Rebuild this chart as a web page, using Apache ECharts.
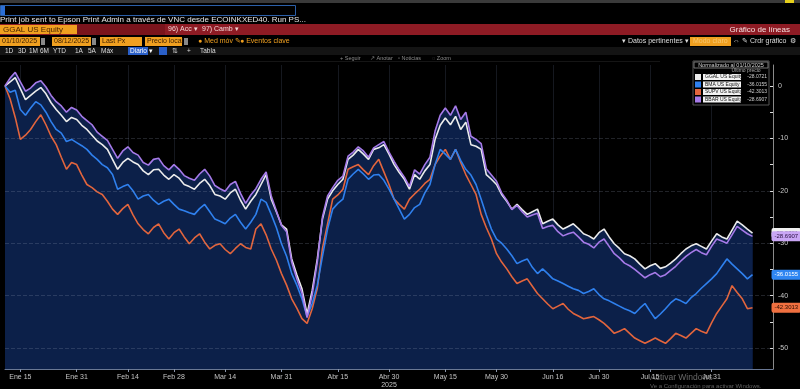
<!DOCTYPE html>
<html><head><meta charset="utf-8">
<script src="https://cdn.jsdelivr.net/npm/echarts@6/dist/echarts.min.js"></script>
<style>html,body{margin:0;padding:0;background:#000;}#c{width:800px;height:389px;}</style>
</head><body><div id="c"></div>
<script>
// ---- data ----
const holidays = ['2025-01-20','2025-02-17','2025-04-18','2025-05-26','2025-06-19','2025-07-04'];
const startDate = '2025-01-10';
const axisEndDate = '2025-08-18';
const monthNames = ['Ene','Feb','Mar','Abr','May','Jun','Jul','Ago','Sep','Oct','Nov','Dic'];
const labelDates = ['2025-01-15','2025-01-31','2025-02-14','2025-02-28','2025-03-14','2025-03-31','2025-04-15','2025-04-30','2025-05-15','2025-05-30','2025-06-16','2025-06-30','2025-07-15','2025-07-31'];
const yLabelValues = [0,-10,-20,-30,-40,-50];
const yTickValues = [0,-5,-10,-15,-20,-25,-30,-35,-40,-45,-50];

const ggal = [0,0.8,1.6,-0.5,-2.6,-1.8,-1.0,-0.3,-1.5,-3.2,-4.5,-5.6,-6.8,-6.0,-6.4,-7.5,-8.3,-9.4,-10.5,-11.2,
-12.1,-14.0,-15.9,-14.6,-13.8,-14.5,-15.0,-16.2,-16.9,-16.0,-15.9,-17.0,-17.8,-16.9,-17.6,-18.8,-19.2,-19.7,-18.6,-17.8,
-19.0,-20.7,-21.0,-21.6,-20.4,-19.7,-21.8,-23.5,-22.0,-20.7,-18.8,-16.9,-21.6,-24.0,-26.5,-27.3,-33.0,-36.0,-38.7,-43.5,
-39.0,-33.0,-25.4,-21.6,-20.0,-18.8,-17.8,-14.0,-13.2,-12.1,-13.0,-14.0,-12.1,-11.8,-11.2,-13.0,-15.0,-16.5,-17.8,-19.7,
-16.9,-17.8,-16.2,-15.0,-10.2,-7.5,-6.1,-7.4,-5.8,-8.3,-6.9,-11.2,-11.5,-12.1,-16.9,-17.8,-18.8,-20.7,-22.0,-23.5,
-22.6,-23.6,-24.5,-24.0,-23.5,-26.3,-25.8,-25.4,-26.5,-27.3,-26.8,-26.3,-27.2,-28.2,-28.6,-29.2,-28.0,-27.3,-28.8,-30.1,
-31.0,-32.0,-32.4,-33.0,-34.0,-34.9,-34.3,-33.9,-34.8,-34.5,-33.8,-33.0,-32.0,-31.1,-30.5,-30.1,-30.6,-31.1,-29.6,-28.2,
-28.8,-29.2,-27.5,-25.8,-26.5,-27.3,-28.0721];
const bbar = [0,1.5,2.6,0.8,-1.0,-0.4,0.6,1.0,-0.2,-1.8,-3.0,-3.8,-5.0,-4.1,-4.6,-5.8,-6.6,-7.4,-8.8,-9.6,
-10.4,-12.1,-13.8,-12.4,-11.6,-12.7,-13.2,-14.6,-15.1,-14.0,-13.8,-15.2,-16.0,-15.0,-15.9,-17.1,-17.6,-18.0,-16.8,-15.9,
-17.2,-19.0,-19.6,-20.1,-18.8,-18.2,-20.5,-22.4,-20.8,-19.6,-17.8,-16.4,-21.0,-23.8,-26.6,-27.8,-33.6,-36.8,-39.5,-44.2,
-39.8,-33.5,-25.0,-21.0,-19.4,-18.0,-17.2,-13.4,-12.6,-11.6,-12.4,-13.6,-11.8,-11.2,-10.6,-12.6,-14.4,-16.0,-17.4,-19.2,
-16.0,-16.8,-15.0,-13.6,-8.6,-5.6,-4.2,-5.6,-3.8,-6.4,-5.0,-9.6,-10.2,-11.0,-15.8,-17.0,-18.2,-20.4,-21.8,-23.6,
-22.8,-24.0,-25.0,-24.6,-24.3,-27.2,-26.8,-26.6,-27.8,-28.6,-28.2,-27.9,-28.8,-29.8,-30.2,-30.9,-29.8,-29.2,-30.6,-32.0,
-32.8,-33.8,-34.3,-35.0,-35.8,-36.6,-36.0,-35.6,-36.4,-36.0,-35.2,-34.4,-33.4,-32.5,-31.8,-31.2,-31.8,-32.2,-30.6,-29.2,
-29.6,-30.0,-28.4,-26.8,-27.5,-28.2,-28.6907];
const bma = [0,-1.2,-0.8,-4.5,-5.6,-4.2,-3.0,-3.6,-5.0,-6.8,-8.3,-9.0,-10.6,-10.2,-10.8,-11.4,-12.1,-13.2,-14.0,-15.0,
-15.6,-16.9,-19.7,-19.2,-18.8,-20.0,-21.6,-21.0,-20.7,-21.8,-22.6,-22.0,-21.6,-22.6,-23.5,-23.8,-24.2,-24.5,-23.4,-22.6,
-24.0,-25.4,-25.8,-26.3,-25.2,-24.5,-26.0,-27.3,-26.0,-24.5,-21.6,-22.2,-24.5,-27.0,-30.1,-32.5,-35.8,-38.0,-40.6,-44.0,
-41.5,-38.0,-32.5,-27.3,-23.5,-22.4,-21.6,-17.8,-16.8,-15.9,-16.8,-17.8,-17.0,-16.9,-18.0,-19.7,-21.6,-23.5,-25.4,-24.5,
-23.2,-22.6,-20.4,-18.8,-15.0,-12.1,-13.0,-14.0,-12.1,-14.2,-15.9,-17.0,-18.8,-21.6,-24.6,-27.3,-29.2,-30.0,-31.1,-32.4,
-33.9,-33.4,-33.0,-34.6,-35.8,-34.9,-35.8,-36.8,-37.2,-37.7,-38.2,-38.7,-39.0,-39.6,-39.2,-38.7,-39.8,-40.6,-41.0,-41.5,
-42.0,-42.5,-42.9,-43.4,-42.4,-41.5,-43.0,-44.4,-43.5,-42.5,-41.4,-40.6,-41.0,-41.5,-40.4,-39.6,-38.6,-37.7,-36.8,-35.8,
-34.4,-33.0,-34.0,-34.9,-35.8,-36.8,-36.0155];
const supv = [0,-2.5,-6.0,-10.2,-9.4,-8.3,-6.8,-5.5,-7.4,-9.6,-11.2,-13.6,-15.9,-14.6,-15.0,-17.0,-18.8,-19.4,-20.2,-20.7,
-22.0,-23.5,-24.5,-23.4,-22.6,-24.6,-26.3,-27.4,-28.2,-27.0,-26.3,-28.0,-29.2,-28.0,-27.3,-28.8,-30.1,-29.0,-28.2,-29.8,
-31.1,-30.4,-30.1,-31.2,-32.0,-31.0,-30.1,-30.8,-31.1,-27.3,-26.3,-28.4,-31.1,-33.2,-35.8,-38.0,-40.6,-42.4,-44.4,-45.3,
-42.5,-38.6,-31.0,-26.3,-21.6,-20.8,-19.7,-15.9,-15.4,-15.0,-16.0,-16.9,-15.2,-14.0,-16.4,-18.8,-21.6,-22.6,-23.5,-21.6,
-20.6,-19.7,-18.6,-17.8,-15.0,-13.4,-12.1,-14.0,-12.1,-14.6,-16.9,-18.8,-20.7,-24.5,-27.0,-29.2,-32.0,-33.6,-34.9,-36.4,
-37.7,-37.2,-36.8,-38.2,-39.6,-40.6,-41.6,-42.5,-42.0,-41.5,-42.6,-43.4,-43.9,-44.4,-44.2,-44.0,-44.6,-45.3,-46.2,-47.2,
-46.8,-46.3,-47.2,-48.1,-48.6,-49.1,-48.6,-48.1,-48.6,-49.1,-48.2,-47.2,-47.6,-48.1,-47.2,-46.3,-46.8,-47.2,-45.2,-43.4,
-42.0,-40.6,-38.1,-39.4,-40.6,-42.5,-42.3013];

const seriesNames = ['GGAL US Equity','BMA US Equity','SUPV US Equity','BBAR US Equity'];
const seriesColors = ['#ececec','#2f80ee','#e2653d','#a67ae8'];
const tagColors = ['#f0f0f0','#2f86f2','#f07040','#c9a6f5'];
const tagText = ['#111','#fff','#2a0d00','#2a1040'];

// ---- build trading-day categories ----
function buildDates(start, end, hol) {
  const out = []; const d = new Date(start + 'T00:00:00Z'); const e = new Date(end + 'T00:00:00Z');
  while (d <= e) {
    const dow = d.getUTCDay(); const s = d.toISOString().slice(0,10);
    if (dow !== 0 && dow !== 6 && !hol.includes(s)) out.push(s);
    d.setUTCDate(d.getUTCDate() + 1);
  }
  return out;
}
const dates = buildDates(startDate, axisEndDate, holidays);
const isLabel = (i, v) => labelDates.includes(v);
function fmtDate(v) {
  const p = v.split('-'); const s = monthNames[+p[1]-1] + ' ' + (+p[2]);
  return v === '2025-04-30' ? s + '\n2025' : s;
}

const FONT = '"Liberation Sans", Arial, sans-serif';
function T(text, x, y, fill, size, align, extra) {
  return Object.assign({type:'text', z:100, silent:true, style:{text:text, x:x, y:y, fill:fill||'#ddd',
    font:(size||8)+'px ' + FONT, textAlign:align||'left', textVerticalAlign:'middle'}}, extra||{});
}
function R(x, y, w, h, fill, stroke) {
  return {type:'rect', z:99, silent:true, shape:{x:x,y:y,width:w,height:h},
    style:{fill:fill||'none', stroke:stroke||'none', lineWidth:1}};
}

const allData = [ggal, bma, supv, bbar];
const graphic = [
  R(0,0,800,3,'#3a3a3a'), R(785,0,9,3,'#e6cf1c'),
  R(0.5,5.5,295,10,'#000','#2b5fa8'), R(1,6,4,9,'#2b6fd6'),
  T('Print job sent to Epson Print Admin a través de VNC desde ECOINKXED40. Run PS...',0,20,'#e6e6e6',8),
  R(0,24,800,11,'#8e1b24'), R(77,24,88,11,'#7a141c'), R(0,25,77,9,'#f0a020'),
  T('GGAL US Equity',3,29.5,'#4a2300',8),
  T('96) Acc ▾',168,29.5,'#f3d6d6',7), T('97) Camb ▾',202,29.5,'#f3d6d6',7),
  T('Gráfico de líneas',790,29.5,'#f5e0e0',8,'right'),
  R(0,37,40,9,'#f0a020'), T('01/10/2025',2,41.5,'#3a1c00',7), R(41,38,4,7,'#888'),
  R(52,37,39,9,'#f0a020'), T('08/12/2025',54,41.5,'#3a1c00',7), R(92,38,4,7,'#888'),
  R(100,37,42,9,'#f0a020'), T('Last Px',102,41.5,'#3a1c00',7),
  R(145,37,37,9,'#f0a020'), T('Precio local',147,41.5,'#3a1c00',7), R(184,38,4,7,'#888'),
  T('● Med móv ✎',198,41.5,'#f0a020',7), T('● Eventos clave',240,41.5,'#f0a020',7),
  T('▾ Datos pertinentes ▾',622,41.5,'#dddddd',7),
  R(690,37,41,9,'#f0a020'), T('Modo claro',693,41.5,'#f8c870',7),
  T('⇔',733,41.5,'#ddd',7), T('✎ Crdr gráfico',742,41.5,'#ddd',7), T('⚙',790,41.5,'#ddd',7),
  R(0,47,800,8,'#141414'),
  T('1D',5,51,'#ddd',6.5), T('3D',18,51,'#ddd',6.5), T('1M',29,51,'#ddd',6.5), T('6M',40,51,'#ddd',6.5),
  T('YTD',53,51,'#ddd',6.5), T('1A',75,51,'#ddd',6.5), T('5A',88,51,'#ddd',6.5), T('Máx',101,51,'#ddd',6.5),
  R(128,47,20,8,'#2a5fc8'), T('Diario ▾',130,51,'#fff',6.5), R(159,47,8,8,'#2a5fc8'),
  T('⇅',172,51,'#ddd',6.5), T('+',187,51,'#ddd',6.5), T('Tabla',200,51,'#ddd',6.5),
  R(0,61,660,0.6,'#2a2a2a'),
  T('+ Seguir',340,58,'#8a8a8a',5.5), T('↗ Anotar',370,58,'#8a8a8a',5.5),
  T('▫ Noticias',398,58,'#8a8a8a',5.5), T('◌ Zoom',432,58,'#8a8a8a',5.5),
  // legend box
  R(693,61,76,44,'#000','#555'), R(694,62,74,6,'#000','#777'),
  T('Normalizado al ' + '01/10/2025',731,65,'#cfcfcf',5.5,'center'),
  T('Último precio',746,71,'#a8a8a8',5,'center'),
  // watermark
  T('Activar Windows',650,378,'rgba(190,190,190,0.55)',8.5),
  T('Ve a Configuración para activar Windows.',650,386,'rgba(190,190,190,0.5)',6)
];
seriesNames.forEach((n, k) => {
  const y = 74 + k * 7.5;
  graphic.push(R(695,y,6,6,seriesColors[k]));
  graphic.push(R(703,y,38,6,'#f2f2f2'));
  graphic.push(T(n,705,y+3,'#111',5));
  const d = allData[k];
  graphic.push(T(d[d.length-1].toFixed(4),767,y+3,'#cfcfcf',5,'right'));
});

function lineSeries(k, z) {
  return {
    name: seriesNames[k], type:'line', data: allData[k], symbol:'none', z: z,
    lineStyle:{color:seriesColors[k], width:1.6}, itemStyle:{color:seriesColors[k]},
    endLabel:{show:true, distance:19, fontSize:6, fontFamily:FONT, color:tagText[k],
      backgroundColor:tagColors[k], padding:[2,3], borderRadius:2,
      formatter:(p)=> Number(Array.isArray(p.value)?p.value[1]:p.value).toFixed(4)},
    animation:false
  };
}
function areaSeries(k) {
  return {name:'area'+k, type:'line', data: allData[k], symbol:'none', silent:true, z:1,
    lineStyle:{width:0, opacity:0}, areaStyle:{color:'#0c2049', opacity:1, origin:'start'}, animation:false};
}

const chart = echarts.init(document.getElementById('c'), null, {renderer:'canvas'});
chart.setOption({
  backgroundColor:'#000',
  animation:false,
  grid:{left:5, right:27, top:65, bottom:18},
  xAxis:{type:'category', data:dates, boundaryGap:false,
    axisLine:{onZero:false, lineStyle:{color:'#6a7894', width:1}},
    axisTick:{show:true, interval:isLabel, length:3, lineStyle:{color:'#8a95aa'}},
    axisLabel:{interval:isLabel, formatter:fmtDate, color:'#c4c4c4', fontSize:7, fontFamily:FONT, margin:4, lineHeight:8},
    splitLine:{show:true, interval:isLabel, lineStyle:{color:'rgba(130,150,190,0.16)', width:1}}},
  yAxis:{type:'value', position:'right', min:-54, max:4, scale:false,
    axisLine:{show:true, lineStyle:{color:'#8a8a8a'}},
    axisTick:{show:true, inside:true, length:3, customValues:yTickValues, lineStyle:{color:'#ddd'}},
    axisLabel:{customValues:yLabelValues, color:'#c8c8c8', fontSize:7, fontFamily:FONT, margin:5},
    splitLine:{show:false}},
  graphic: graphic,
  series:[
    areaSeries(3), areaSeries(0),
    Object.assign(lineSeries(2, 3), {markLine:{silent:true, symbol:'none', label:{show:false},
      lineStyle:{color:'rgba(150,160,180,0.22)', type:'dashed', width:1},
      data: yLabelValues.filter(v=>v!==0).map(v=>({yAxis:v}))}}),
    lineSeries(1, 4), lineSeries(0, 5), lineSeries(3, 6)
  ]
});
</script></body></html>
